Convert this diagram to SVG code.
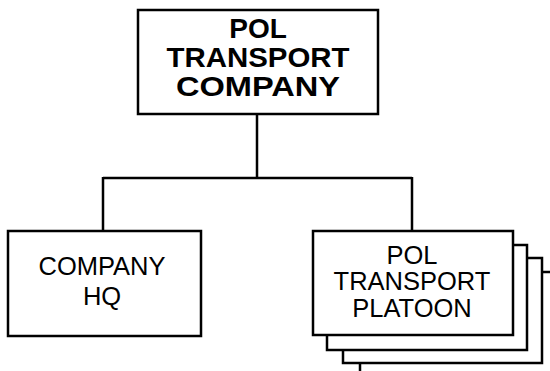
<svg xmlns="http://www.w3.org/2000/svg" width="550" height="371" viewBox="0 0 550 371">
<style>
.box{fill:#fff;stroke:#000;stroke-width:2.5}
.ln{fill:none;stroke:#000;stroke-width:2.5}
.b{font-family:"Liberation Sans",Arial,sans-serif;font-weight:bold;font-size:28px;text-anchor:middle;fill:#000}
.r{font-family:"Liberation Sans",Arial,sans-serif;font-size:25.5px;text-anchor:middle;fill:#000}
</style>
<rect width="550" height="371" fill="#fff"/>
<g id="connectors">
<path class="ln" d="M257,114 V178 M103,178 H412 M103,177 V231 M412,177 V231"/>
<path class="ln" d="M542,272 H550 M360,363 V371"/>
</g>
<g id="top">
<rect class="box" x="138" y="10" width="240" height="104"/>
<text class="b" x="258" y="38">POL</text>
<text class="b" x="258" y="67" textLength="183" lengthAdjust="spacingAndGlyphs">TRANSPORT</text>
<text class="b" x="258" y="96" textLength="164" lengthAdjust="spacingAndGlyphs">COMPANY</text>
</g>
<g id="hq">
<rect class="box" x="8" y="231" width="193" height="105"/>
<text class="r" x="102" y="275">COMPANY</text>
<text class="r" x="102" y="304.5">HQ</text>
</g>
<g id="platoon">
<rect class="box" x="343" y="258" width="199" height="105"/>
<rect class="box" x="327" y="245" width="200" height="105"/>
<rect class="box" x="313" y="231" width="200" height="104"/>
<text class="r" x="412" y="263.5">POL</text>
<text class="r" x="412" y="290">TRANSPORT</text>
<text class="r" x="412" y="317">PLATOON</text>
</g>
</svg>
